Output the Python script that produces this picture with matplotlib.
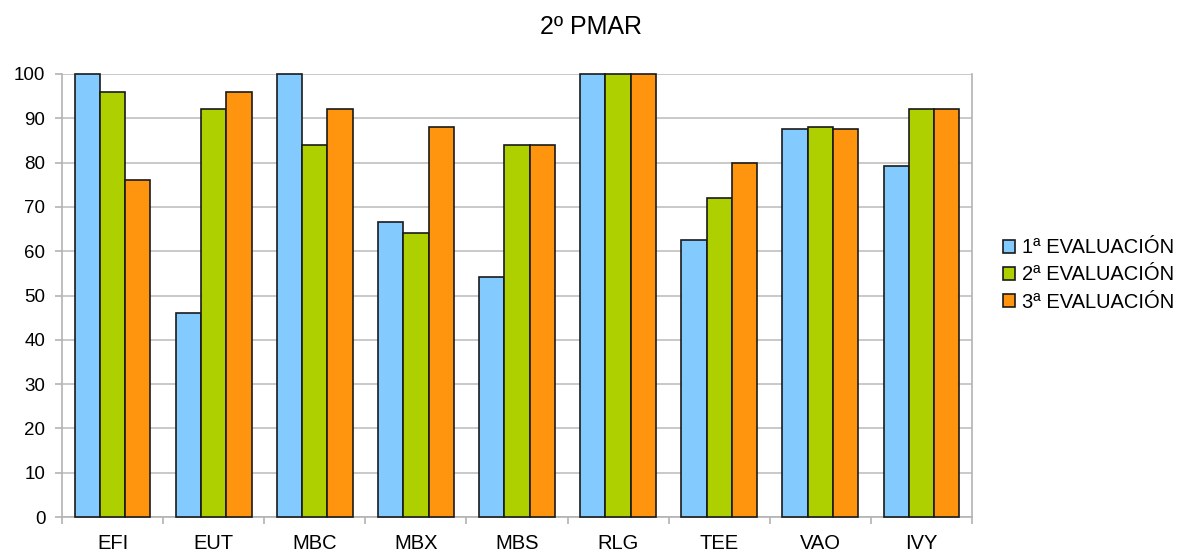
import numpy as np
import matplotlib.pyplot as plt
from matplotlib.patches import Patch

plt.rcParams['font.family'] = ['Liberation Sans', 'DejaVu Sans']

categories = ['EFI', 'EUT', 'MBC', 'MBX', 'MBS', 'RLG', 'TEE', 'VAO', 'IVY']
eval1 = [100, 46, 100, 66.7, 54.2, 100, 62.5, 87.5, 79.2]
eval2 = [96, 92, 84, 64, 84, 100, 72, 88, 92]
eval3 = [76, 96, 92, 88, 84, 100, 80, 87.5, 92]
series_names = ['1ª EVALUACIÓN', '2ª EVALUACIÓN', '3ª EVALUACIÓN']
colors = ['#83caff', '#aecf00', '#ff950e']

fig = plt.figure(figsize=(11.79, 5.52), dpi=100)
ax = fig.add_axes([62 / 1179, 35 / 552, 910 / 1179, 443 / 552])

x = np.arange(len(categories))
w = 0.25
for i, vals in enumerate([eval1, eval2, eval3]):
    bars = ax.bar(x + (i - 1) * w, vals, w, color=colors[i], edgecolor='#1a1a1a',
                  linewidth=1.2, zorder=3, label=series_names[i])
    for b in bars:
        b.set_clip_on(False)

ax.set_xlim(-0.5, len(categories) - 0.5)
ax.set_ylim(0, 100)
ax.set_yticks(range(0, 101, 10))
ax.yaxis.grid(True, color='#c0c0c0', linewidth=1.2, zorder=0)
ax.set_xticks(x)
ax.set_xticklabels(categories)
ax.set_xticks(np.arange(-0.5, len(categories), 1), minor=True)
ax.tick_params(axis='x', which='major', length=0, labelsize=14.5, pad=12)
ax.tick_params(axis='x', which='minor', length=5, color='#b3b3b3', width=1.2)
ax.tick_params(axis='y', length=5, color='#b3b3b3', width=1.2, labelsize=13.5, pad=7)
for side in ['left', 'right', 'top', 'bottom']:
    ax.spines[side].set_color('#b3b3b3')
    ax.spines[side].set_linewidth(1.2)
ax.spines['top'].set_visible(False)

fig.text(591.5 / 1179, 1 - 27 / 552, '2º PMAR', ha='center',
         va='center', fontsize=18)

handles = [Patch(facecolor=c, edgecolor='#1a1a1a', linewidth=1.2) for c in colors]
fig.legend(handles, series_names, loc='center left',
           bbox_to_anchor=(993 / 1179, 1 - 275 / 552), frameon=False,
           fontsize=14.5, handlelength=0.6, handleheight=0.6,
           handletextpad=0.35, labelspacing=0.4, borderpad=0)

fig.savefig('out.png', dpi=100)
